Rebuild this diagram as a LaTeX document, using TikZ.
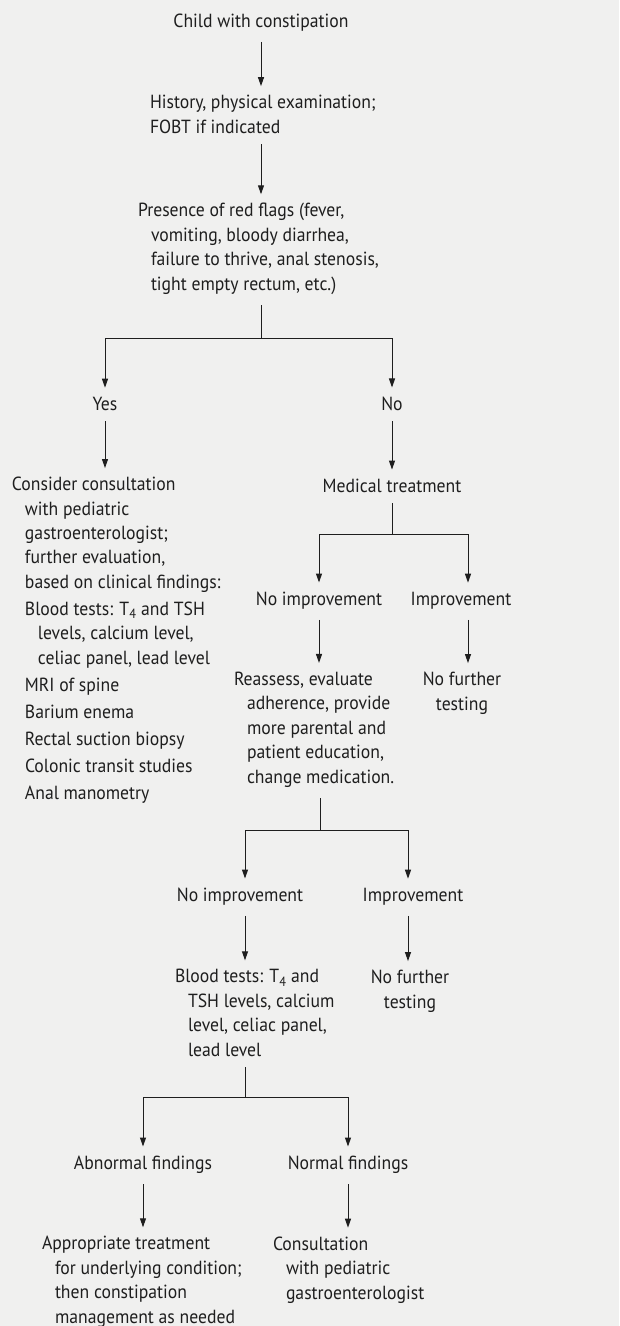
\documentclass[tikz,border=0pt]{standalone}
\usepackage{fontspec}
\setmainfont[FakeStretch=0.93]{PT Sans}
\usetikzlibrary{arrows.meta}
\definecolor{ink}{RGB}{30,30,30}
\definecolor{paper}{RGB}{240,240,239}
\newcommand{\ind}{\hspace*{13pt}}

\begin{document}
\begin{tikzpicture}[x=1pt,y=-1pt,
  lbl/.style={inner sep=0pt, outer sep=0pt, text=ink, align=left,
    font=\fontsize{19}{24.4}\selectfont},
  conn/.style={draw=ink, line width=1pt, shorten <=11pt, shorten >=9pt},
  arr/.style={conn, -{Triangle[length=9pt,width=6pt]}}]
%set diagram at 619 x 1326, page colour behind
\fill [paper] (0,0) rectangle (619,1326);
\useasboundingbox (0,0) rectangle (619,1326);

% Text Node (multi-line nodes sit on the baseline of their last line)
\node (child) [lbl, anchor=base] at (261,27) {Child with constipation};
% Text Node
\node (history) [lbl, anchor=base west] at (150,133) {History, physical examination;\\FOBT if indicated};
% Text Node
\node (flags) [lbl, anchor=base west] at (138,290) {Presence of red flags (fever,\\\ind vomiting, bloody diarrhea,\\\ind failure to thrive, anal stenosis,\\\ind tight empty rectum, etc.)};
% Text Node
\node (yes) [lbl, anchor=base] at (105,410) {Yes};
% Text Node
\node (no) [lbl, anchor=base] at (392,410) {No};
% Text Node
\node (consider) [lbl, anchor=base west] at (12,799) {Consider consultation\\\ind with pediatric\\\ind gastroenterologist;\\\ind further evaluation,\\\ind based on clinical findings:\\[2.6pt]\ind Blood tests: T\textsubscript{4} and TSH\\\ind\ind levels, calcium level,\\\ind\ind celiac panel, lead level\\[2.6pt]\ind MRI of spine\\[2.6pt]\ind Barium enema\\[2.6pt]\ind Rectal suction biopsy\\[2.6pt]\ind Colonic transit studies\\[2.6pt]\ind Anal manometry};
% Text Node
\node (medical) [lbl, anchor=base] at (392,492) {Medical treatment};
% Text Node
\node (noimp) [lbl, anchor=base] at (319,605) {No improvement};
% Text Node
\node (imp) [lbl, anchor=base] at (461,605) {Improvement};
% Text Node
\node (reassess) [lbl, anchor=base west] at (234,783) {Reassess, evaluate\\\ind adherence, provide\\\ind more parental and\\\ind patient education,\\\ind change medication.};
% Text Node
\node (nofurther) [lbl, anchor=base, align=center] at (462,710) {No further\\testing};
% Text Node
\node (noimpb) [lbl, anchor=base] at (240,901) {No improvement};
% Text Node
\node (impb) [lbl, anchor=base] at (413,901) {Improvement};
% Text Node
\node (blood) [lbl, anchor=base west] at (175,1056) {Blood tests: T\textsubscript{4} and\\\ind TSH levels, calcium\\\ind level, celiac panel,\\\ind lead level};
% Text Node
\node (nofurtherb) [lbl, anchor=base, align=center] at (410,1008) {No further\\testing};
% Text Node
\node (abnormal) [lbl, anchor=base] at (143,1169) {Abnormal findings};
% Text Node
\node (normal) [lbl, anchor=base] at (348,1169) {Normal findings};
% Text Node
\node (treat) [lbl, anchor=base west] at (42,1323) {Appropriate treatment\\\ind for underlying condition;\\\ind then constipation\\\ind management as needed};
% Text Node
\node (consult) [lbl, anchor=base west] at (273,1299) {Consultation\\\ind with pediatric\\\ind gastroenterologist};

%Straight Lines
\draw [arr] (child) -- (child |- history.north);
\draw [arr] (child |- history.south) -- (child |- flags.north);
%Split: red flags
\coordinate (split1) at (261,338);
\draw [conn, shorten >=0pt] (split1 |- flags.south) -- (split1);
\draw [arr, shorten <=0pt] (split1) -| (yes);
\draw [arr, shorten <=0pt] (split1) -| (no);
\draw [arr] (yes) -- (yes |- consider.north);
\draw [arr] (no) -- (medical);
%Split: medical treatment
\coordinate (split2) at (392,534);
\draw [conn, shorten >=0pt] (medical) -- (split2);
\draw [arr, shorten <=0pt] (split2) -| (noimp);
\draw [arr, shorten <=0pt] (split2) -| ([xshift=7pt]imp.north);
\draw [arr] (noimp) -- (noimp |- reassess.north);
\draw [arr] ([xshift=7pt]imp.south) -- ([xshift=7pt]imp.south |- nofurther.north);
%Split: reassess
\coordinate (split3) at (320,830);
\draw [conn, shorten >=0pt] (split3 |- reassess.south) -- (split3);
\draw [arr, shorten <=0pt] (split3) -| ([xshift=5pt]noimpb.north);
\draw [arr, shorten <=0pt] (split3) -| ([xshift=-5pt]impb.north);
\draw [arr] ([xshift=5pt]noimpb.south) -- ([xshift=5pt]noimpb.south |- blood.north);
\draw [arr] ([xshift=-5pt]impb.south) -- ([xshift=-5pt]impb.south |- nofurtherb.north);
%Split: blood tests
\coordinate (split4) at (245,1097);
\draw [conn, shorten >=0pt] (split4 |- blood.south) -- (split4);
\draw [arr, shorten <=0pt] (split4) -| (abnormal);
\draw [arr, shorten <=0pt] (split4) -| (normal);
\draw [arr] (abnormal) -- (abnormal |- treat.north);
\draw [arr] (normal) -- (normal |- consult.north);

\end{tikzpicture}
\end{document}
